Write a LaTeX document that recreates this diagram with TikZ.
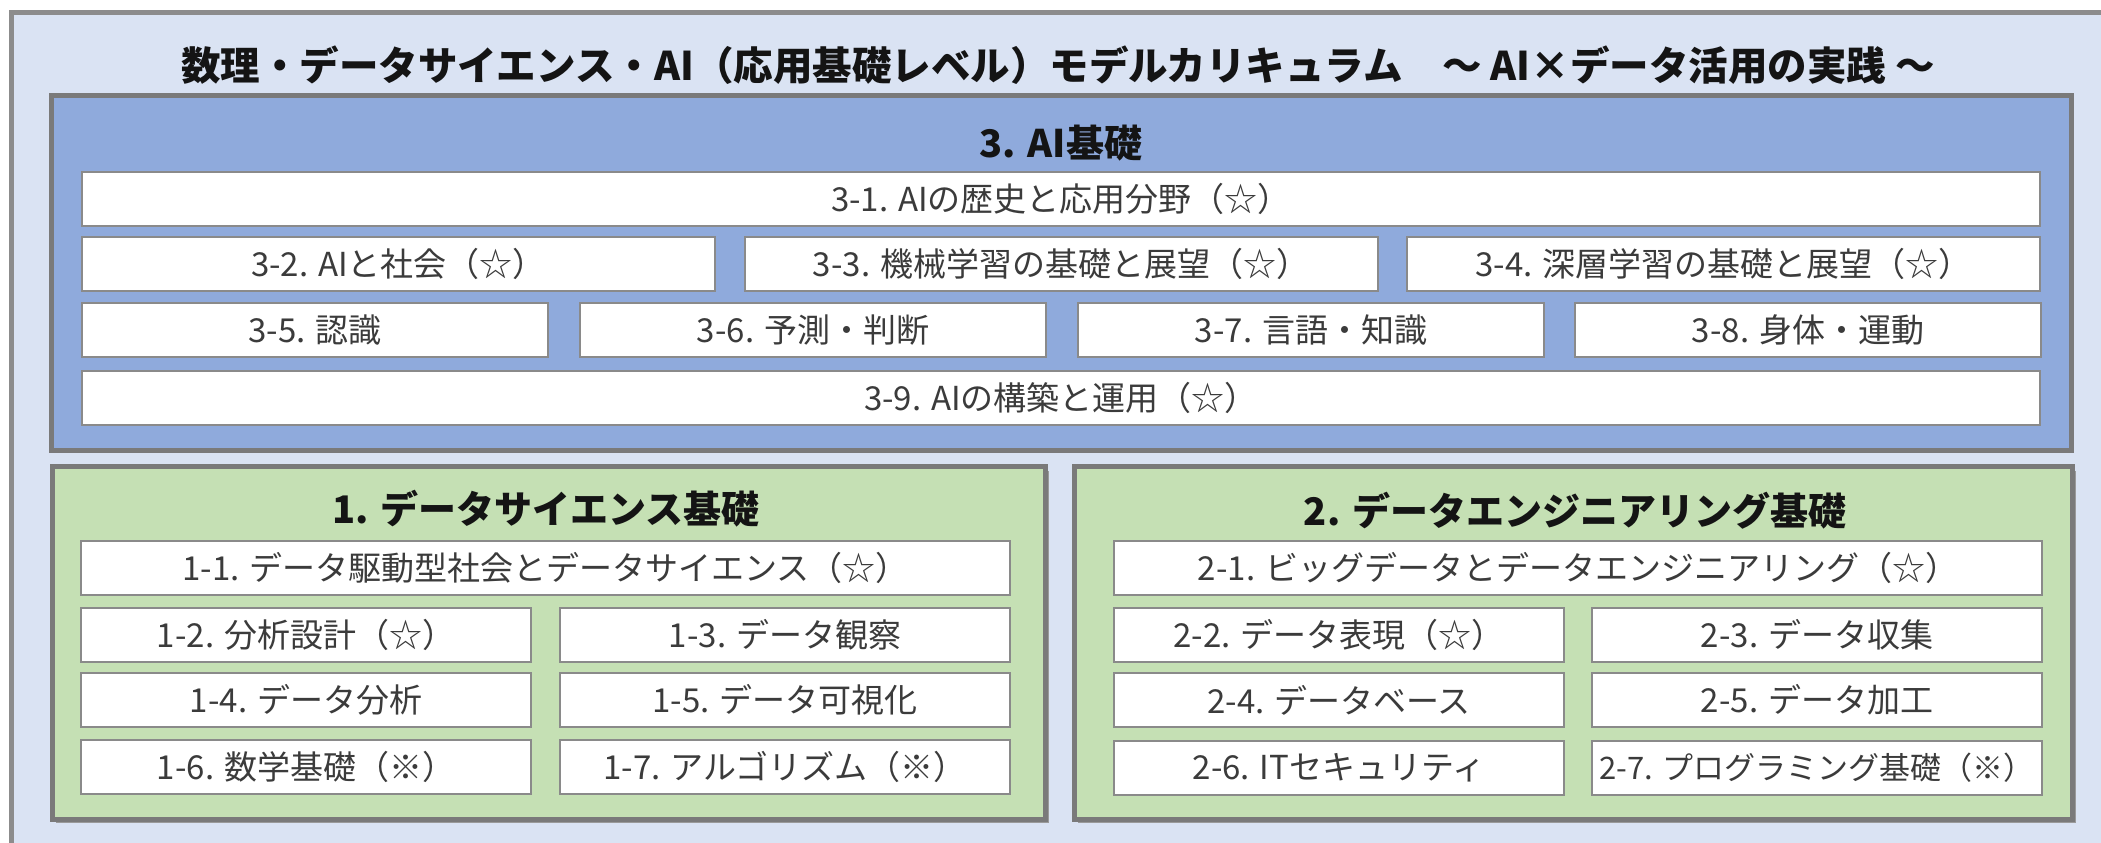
\documentclass[tikz,border=0pt]{standalone}
\usepackage{fontspec}
\newfontfamily\jp{Noto Sans CJK JP}
\definecolor{bgblue}{HTML}{DAE3F3}
\definecolor{aiblue}{HTML}{8FAADC}
\definecolor{dsgreen}{HTML}{C5E0B4}
\definecolor{framegray}{HTML}{7A7A7A}
\definecolor{outergray}{HTML}{8C8C8C}
\definecolor{boxgray}{HTML}{8A8A8A}
\definecolor{shadowgray}{HTML}{9A9A9A}
\definecolor{txtgray}{HTML}{3B3B3B}
\begin{document}
\begin{tikzpicture}[x=1pt,y=-1pt,
  sub/.style={draw=boxgray, line width=2pt, fill=white, minimum height=54pt, inner sep=0pt,
    text=txtgray, font=\jp\fontsize{33}{38}\selectfont},
  grouptitle/.style={inner sep=0pt, text=black!92, font=\jp\bfseries\fontsize{38}{44}\selectfont},
  maintitle/.style={inner sep=0pt, text=black!92, font=\jp\bfseries\fontsize{39.5}{46}\selectfont},
  groupbox/.style={draw=framegray, line width=5pt, inner sep=0pt},
]
\useasboundingbox (0,0) rectangle (2101,843);
\fill[white] (0,0) rectangle (2101,843);
\begin{scope}
  \clip (0,0) rectangle (2101,843);
  \draw[fill=bgblue, draw=outergray, line width=5pt] (11,13) rectangle (2140,890);
\end{scope}

% main title
\node[maintitle] (title) at (1058,65) {数理・データサイエンス・AI（応用基礎レベル）モデルカリキュラム　～ AI×データ活用の実践 ～};

% group boxes
\node[groupbox, fill=aiblue, minimum width=2020pt, minimum height=355pt] (ai) at (1061,272.5) {};
\fill[shadowgray] (56,471) rectangle (1049,823);
\fill[shadowgray] (1078,471) rectangle (2076,823);
\node[groupbox, fill=dsgreen, minimum width=993pt, minimum height=353pt] (ds) at (548.5,642.5) {};
\node[groupbox, fill=dsgreen, minimum width=998pt, minimum height=353pt] (de) at (1573,642.5) {};

% group titles
\node[grouptitle] (t3) at (1061,143) {3. AI基礎};
\node[grouptitle] (t1) at (546,509) {1. データサイエンス基礎};
\node[grouptitle] (t2) at (1575,511) {2. データエンジニアリング基礎};

% AI items
\node[sub, minimum width=1958pt] (a1) at (1061,199) {3-1. AIの歴史と応用分野（☆）};
\node[sub, minimum width=633pt] (a2) at (398.5,264) {3-2. AIと社会（☆）};
\node[sub, minimum width=633pt] (a3) at (1061,264) {3-3. 機械学習の基礎と展望（☆）};
\node[sub, minimum width=633pt] (a4) at (1723.5,264) {3-4. 深層学習の基礎と展望（☆）};
\node[sub, minimum width=466pt] (a5) at (315,330) {3-5. 認識};
\node[sub, minimum width=466pt] (a6) at (813,330) {3-6. 予測・判断};
\node[sub, minimum width=466pt] (a7) at (1311,330) {3-7. 言語・知識};
\node[sub, minimum width=466pt] (a8) at (1808,330) {3-8. 身体・運動};
\node[sub, minimum width=1958pt] (a9) at (1061,398) {3-9. AIの構築と運用（☆）};

% data science items
\node[sub, minimum width=929pt] (d1) at (545.5,568) {1-1. データ駆動型社会とデータサイエンス（☆）};
\node[sub, minimum width=450pt] (d2) at (306,634.5) {1-2. 分析設計（☆）};
\node[sub, minimum width=450pt] (d3) at (785,634.5) {1-3. データ観察};
\node[sub, minimum width=450pt] (d4) at (306,700) {1-4. データ分析};
\node[sub, minimum width=450pt] (d5) at (785,700) {1-5. データ可視化};
\node[sub, minimum width=450pt] (d6) at (306,766.5) {1-6. 数学基礎（※）};
\node[sub, minimum width=450pt] (d7) at (785,766.5) {1-7. アルゴリズム（※）};

% data engineering items
\node[sub, minimum width=928pt] (e1) at (1578,568) {2-1. ビッグデータとデータエンジニアリング（☆）};
\node[sub, minimum width=450pt] (e2) at (1339,634.5) {2-2. データ表現（☆）};
\node[sub, minimum width=450pt] (e3) at (1817,634.5) {2-3. データ収集};
\node[sub, minimum width=450pt] (e4) at (1339,700) {2-4. データベース};
\node[sub, minimum width=450pt] (e5) at (1817,700) {2-5. データ加工};
\node[sub, minimum width=450pt] (e6) at (1339,768) {2-6. ITセキュリティ};
\node[sub, minimum width=450pt, font=\jp\fontsize{31}{36}\selectfont] (e7) at (1817,768) {2-7. プログラミング基礎（※）};
\end{tikzpicture}
\end{document}
